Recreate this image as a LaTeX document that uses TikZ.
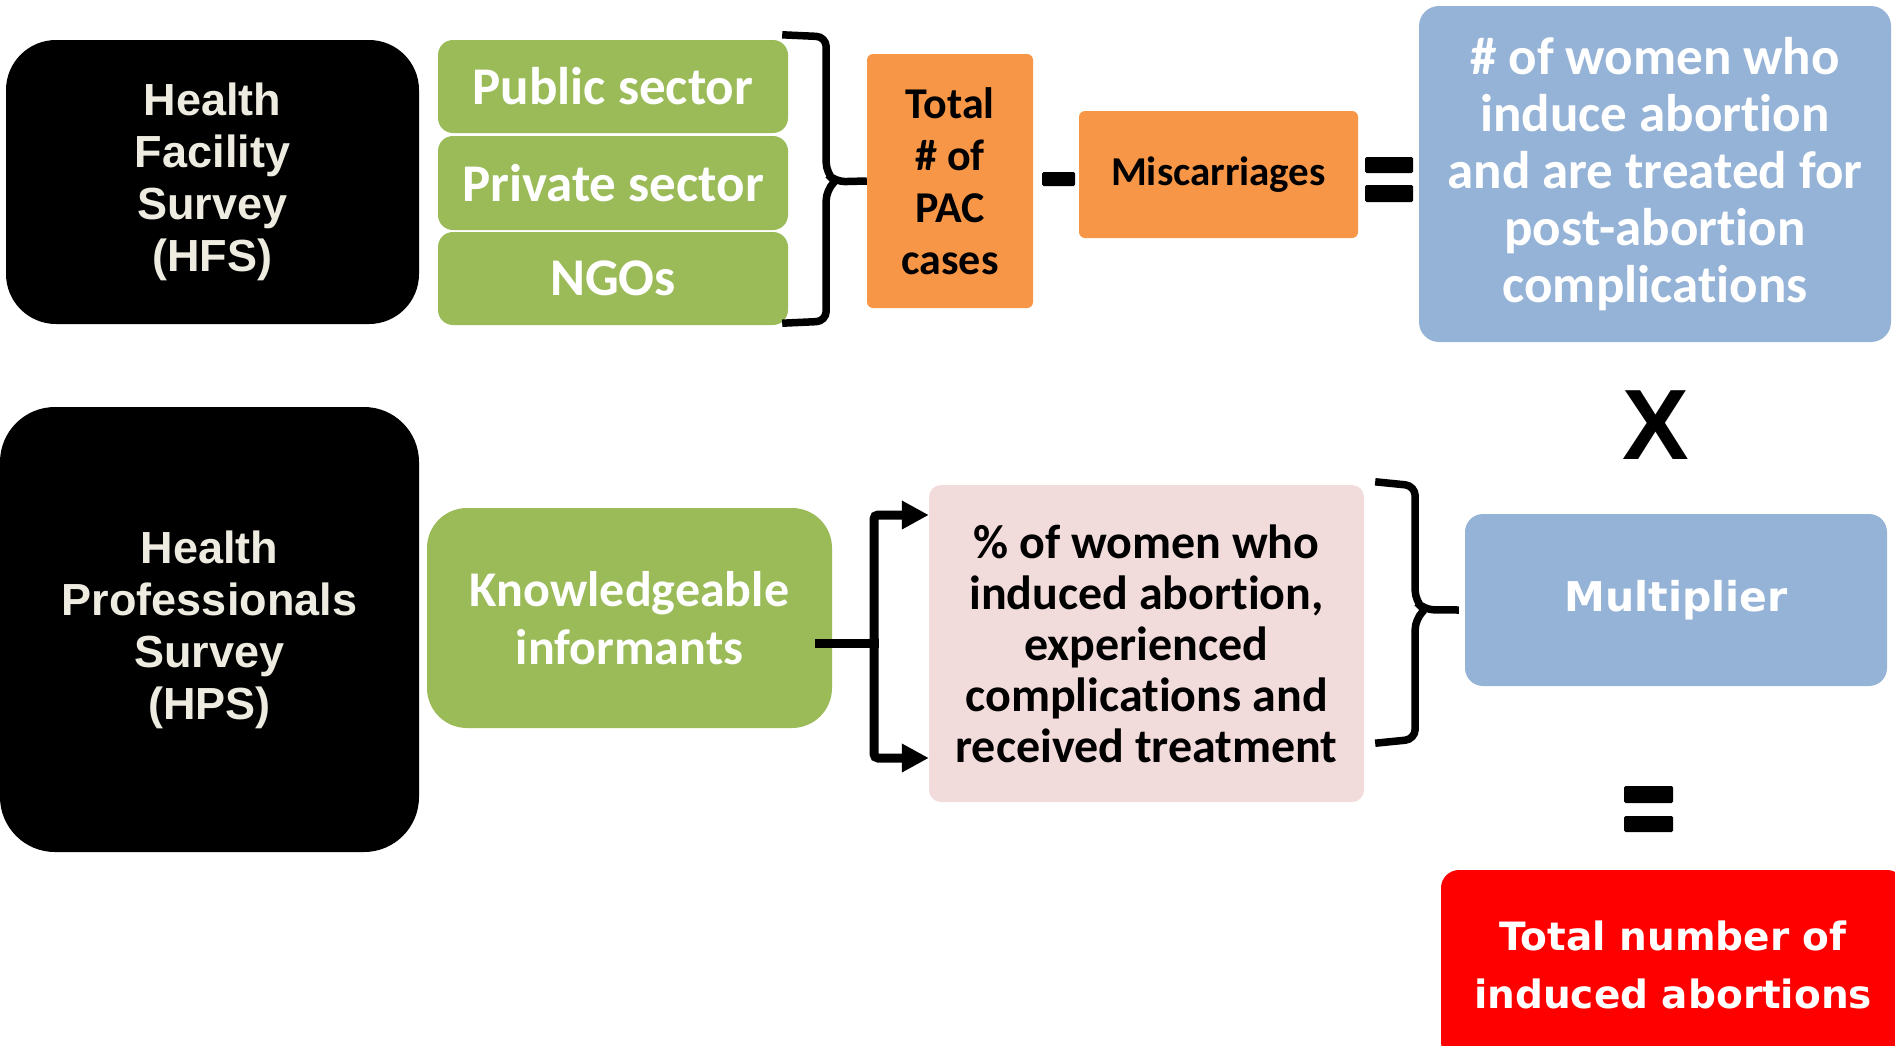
\documentclass[tikz,border=0pt]{standalone}
\usepackage{fontspec}
\usepackage{tikz}
\usetikzlibrary{arrows.meta}
\setmainfont{Carlito}[RawFeature={-liga;-clig;-calt;-dlig;-rlig}]
\newfontfamily\arialfont{Liberation Sans}
\newfontfamily\verdfont{DejaVu Sans}
\definecolor{cream}{HTML}{EEECE1}
\definecolor{leaf}{HTML}{9BBB59}
\definecolor{peach}{HTML}{F79646}
\definecolor{sky}{HTML}{95B3D7}
\definecolor{blush}{HTML}{F2DCDB}

\begin{document}
\begin{tikzpicture}[x=1pt, y=-1pt,
		srvbox/.style={fill=black, rounded corners=50pt, inner sep=0pt, align=center, text=cream, font=\arialfont\bfseries\fontsize{45}{52}\selectfont},
		grnbox/.style={fill=leaf, rounded corners=15pt, inner sep=0pt, align=center, text=white, font=\bfseries\fontsize{53}{58}\selectfont},
		orgbox/.style={fill=peach, rounded corners=6pt, inner sep=0pt, align=center, text=black},
		blubox/.style={fill=sky, rounded corners=20pt, inner sep=0pt, align=center, text=white},
		bracket/.style={line width=7.5pt, rounded corners=10pt},
		feed/.style={line width=9pt, line cap=rect, rounded corners=4pt},
		opbar/.style={fill=black, rounded corners=1.5pt}]
				\useasboundingbox (0,0) rectangle (1895,1045);
				\node[srvbox, minimum width=413pt, minimum height=284pt] (hfs)at(212.5, 182) {Health\\Facility\\Survey\\(HFS)};
				\node[srvbox, minimum width=419pt, minimum height=445pt, rounded corners=55pt] (hps)at(209.5, 629.5) {Health\\Professionals\\Survey\\(HPS)};
				\node[grnbox, minimum width=350pt, minimum height=93pt] (pub)at(613, 86.5) {Public sector};
				\node[grnbox, minimum width=350pt, minimum height=94pt] (priv)at(613, 183) {Private sector};
				\node[grnbox, minimum width=350pt, minimum height=93pt] (ngo)at(613, 278.5) {NGOs};
				\node[orgbox, minimum width=166pt, minimum height=254pt, font=\bfseries\fontsize{44}{52}\selectfont] (total)at(950, 181) {Total\\\# of\\PAC\\cases};
				\node[orgbox, minimum width=279pt, minimum height=127pt, font=\bfseries\fontsize{41}{48}\selectfont] (misc)at(1218.5, 174.5) {Miscarriages};
				\node[blubox, minimum width=472pt, minimum height=336pt, font=\bfseries\fontsize{53}{57}\selectfont] (treated)at(1655, 174) {\# of women who\\induce abortion\\and are treated for\\post-abortion\\complications};
				\node[grnbox, minimum width=405pt, minimum height=220pt, rounded corners=40pt, font=\bfseries\fontsize{50}{58}\selectfont] (know)at(629.5, 618) {Knowledgeable\\informants};
				\node[fill=blush, rounded corners=12pt, inner sep=0pt, align=center, minimum width=435pt, minimum height=317pt, font=\bfseries\fontsize{48}{51}\selectfont] (pct)at(1146.5, 643.5) {\% of women who\\induced abortion,\\experienced\\complications and\\received treatment};
				\node[blubox, minimum width=422pt, minimum height=172pt, rounded corners=18pt, font=\verdfont\bfseries\fontsize{41}{48}\selectfont] (mult)at(1676, 600) {Multiplier};
				\node[fill=red, rounded corners=18pt, inner sep=0pt, align=center, text=white, minimum width=464pt, minimum height=190pt, font=\verdfont\bfseries\fontsize{39}{58}\selectfont] (total2)at(1673, 965) {Total number of\\induced abortions};
				\node[font=\arialfont\bfseries\fontsize{100}{100}\selectfont] (times)at(1656, 425) {X};
				\fill[opbar] (1042, 172) rectangle (1075, 186);
				\fill[opbar] (1365, 157) rectangle (1413, 173);
				\fill[opbar] (1365, 185) rectangle (1413, 202);
				\fill[opbar] (1624, 786) rectangle (1673, 803);
				\fill[opbar] (1624, 816) rectangle (1673, 832);
				\draw[bracket] ([xshift=-6pt, yshift=5pt]pub.north east) -- ++(44, 2) -- ++(0, 136) -- ++(9, 9) -- (total.west);
				\draw[bracket] ([xshift=-6pt, yshift=2pt]ngo.south east) -- ++(44, -2) -- ++(0, -131) -- ++(9, -9);
				\draw[bracket] ([xshift=11pt, yshift=3pt]pct.north east) -- ++(40, 4) -- ++(0, 115) -- ++(9, 9) -- ([xshift=-6pt, yshift=-10pt]mult.west);
				\draw[bracket] ([xshift=11pt, yshift=59pt]pct.south east) -- ++(40, -4) -- ++(0, -120) -- ++(9, -9);
				\coordinate (split)at(874, 643);
				\draw[feed] ([xshift=-13pt]know.east |- split) -- (split);
				\draw[feed, -{Triangle[length=27pt, width=27pt]}] (split) |- ([yshift=128.5pt]pct.west);
				\draw[feed, -{Triangle[length=27pt, width=27pt]}] (split) |- ([yshift=-114.5pt]pct.west);
			\end{tikzpicture}
\end{document}
